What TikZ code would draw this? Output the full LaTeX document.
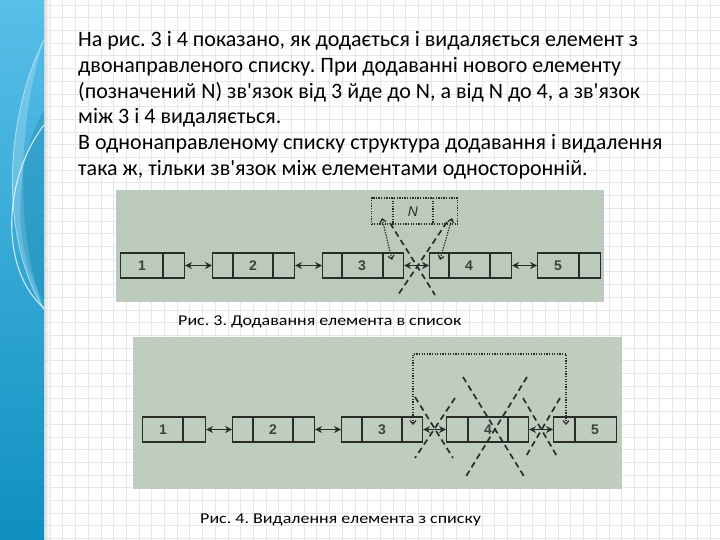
\documentclass[tikz,border=0pt]{standalone}
\usepackage{fontspec}
\setmainfont{Carlito}
\newfontfamily\numfont{Liberation Sans}
\usetikzlibrary{arrows.meta,calc}
\definecolor{gridc}{HTML}{E2E8EE}
\definecolor{photoA}{HTML}{BCCABB}
\definecolor{photoB}{HTML}{BFCDBE}
\definecolor{linec}{HTML}{2A2C2A}
\definecolor{bandtop}{HTML}{58BFE8}
\definecolor{bandbot}{HTML}{0F90C0}
\newcommand{\apos}{\textquotesingle}
\tikzset{
  elem/.style={draw=linec, line width=1.1pt, inner sep=0pt, minimum height=25pt, anchor=west},
  cellline/.style={draw=linec, line width=1.1pt},
  num/.style={font=\numfont\fontsize{14}{14}\selectfont\bfseries, text=linec!90!white, inner sep=0pt},
  dbl/.style={{Stealth[length=7pt,width=7pt]}-{Stealth[length=7pt,width=7pt]}, line width=1.7pt, draw=linec},
  dotarr/.style={{Straight Barb[length=3.5pt,width=6pt]}-{Straight Barb[length=3.5pt,width=6pt]}, line width=1.2pt, draw=linec, dash pattern=on 1.3pt off 1.3pt},
  dotbox/.style={draw=linec, line width=1.1pt, dash pattern=on 1.3pt off 1.3pt, inner sep=0pt, minimum height=26pt, anchor=west},
  dashx/.style={draw=linec, line width=1.7pt, dash pattern=on 6pt off 4pt},
  body/.style={font=\fontsize{22}{26}\selectfont, anchor=base west, inner sep=0pt},
  captxt/.style={font=\fontsize{15}{17}\selectfont, anchor=base west, inner sep=0pt},
}
\begin{document}
\frenchspacing
\begin{tikzpicture}[x=1pt,y=-1pt]
\useasboundingbox (0,0) rectangle (720,540);
\fill[white] (0,0) rectangle (720,540);
% grid
\foreach \i in {0,...,53} \draw[gridc, line width=0.6pt] (50+\i*12.7,0) -- (50+\i*12.7,540);
\foreach \j in {0,...,43} \draw[gridc, line width=0.6pt] (44,5+\j*12.7) -- (720,5+\j*12.7);
% left band
\shade[top color=bandtop, bottom color=bandbot] (0,0) rectangle (44,540);
\shade[left color=black!25, right color=white, opacity=0.5] (44,0) rectangle (50,540);
\fill[white, opacity=0.22] (44,40) .. controls (8,110) and (-4,230) .. (44,310) .. controls (14,230) and (18,120) .. (44,40);
\fill[bandbot!80!black, opacity=0.25] (44,110) .. controls (15,160) and (10,250) .. (44,300) -- (44,110);
\draw[white, opacity=0.75, line width=1.1pt] (44,125) .. controls (2,180) and (0,270) .. (44,308);
\draw[white, opacity=0.5, line width=0.8pt] (44,40) .. controls (8,110) and (-4,230) .. (44,310);
% body text
\node[body] (t1) at (78,47) {На рис. 3 і 4 показано, як додається і видаляється елемент з};
\node[body] (t2) at (78,73) {двонаправленого списку. При додаванні нового елементу};
\node[body] (t3) at (78,99) {(позначений N) зв\apos язок від 3 йде до N, а від N до 4, а зв\apos язок};
\node[body] (t4) at (78,124) {між 3 і 4 видаляється.};
\node[body] (t5) at (78,150) {В однонаправленому списку структура додавання і видалення};
\node[body] (t6) at (78,176) {така ж, тільки зв\apos язок між елементами односторонній.};
% ---------- figure 3 ----------
\fill[photoA] (116,190) rectangle (604,302);
\node[elem, minimum width=64pt] (b1) at (120,265.5) {};
\node[elem, minimum width=82pt] (b2) at (212,265.5) {};
\node[elem, minimum width=81pt] (b3) at (322,265.5) {};
\node[elem, minimum width=82pt] (b4) at (429,265.5) {};
\node[elem, minimum width=63pt] (b5) at (537,265.5) {};
\foreach \x in {163,233,273,342,383,449,490,579} \draw[cellline] (\x,253) -- (\x,278);
\node[num] at (142,266) {1};
\node[num] at (253,266) {2};
\node[num] at (362,266) {3};
\node[num] at (469,266) {4};
\node[num] at (558,266) {5};
\draw[dbl] (b1.east) -- (b2.west);
\draw[dbl] (b2.east) -- (b3.west);
\draw[dbl] (b3.east) -- (b4.west);
\draw[dbl] (b4.east) -- (b5.west);
\node[dotbox, minimum width=86pt] (nb) at (371,211) {};
\draw[dotbox] (393,198) -- (393,224);
\draw[dotbox] (433,198) -- (433,224);
\node[font=\numfont\itshape\fontsize{14}{14}\selectfont, text=linec, inner sep=0pt] (nl) at (413,212) {N};
\coordinate (p3) at (392,260);
\coordinate (pn1) at (382,218);
\coordinate (p4) at (440,260);
\coordinate (pn2) at (452,218);
\draw[dotarr] (p3) -- (pn1);
\draw[dotarr] (p4) -- (pn2);
\draw[dashx] (390,223) -- (435,295);
\draw[dashx] (447,222) -- (398,295);
\node[captxt] (c3) at (178,325) {\scalebox{1.2}[1]{Рис. 3. Додавання елемента в список}};
% ---------- figure 4 ----------
\fill[photoB] (133,337) rectangle (622,489);
\node[elem, minimum width=63pt] (c1) at (142,429.5) {};
\node[elem, minimum width=82pt] (c2) at (232,429.5) {};
\node[elem, minimum width=81pt] (c3b) at (341,429.5) {};
\node[elem, minimum width=82pt] (c4) at (446,429.5) {};
\node[elem, minimum width=63pt] (c5) at (553,429.5) {};
\foreach \x in {183,253,293,362,402,468,508,575} \draw[cellline] (\x,417) -- (\x,442);
\node[num] at (163,430) {1};
\node[num] at (273,430) {2};
\node[num] at (382,430) {3};
\node[num] at (488,430) {4};
\node[num] at (595,430) {5};
\draw[dbl] (c1.east) -- (c2.west);
\draw[dbl] (c2.east) -- (c3b.west);
\draw[dbl] (c3b.east) -- (c4.west);
\draw[dbl] (c4.east) -- (c5.west);
\coordinate (q3) at (413,425);
\coordinate (q5) at (566,425);
\draw[dotarr] (q3) -- (413,354) -- (566,354) -- (q5);
\draw[dashx] (415,397) -- (453,458);
\draw[dashx] (455,398) -- (415,458);
\draw[dashx] (463,377) -- (525,478);
\draw[dashx] (527,377) -- (465,478);
\draw[dashx] (523,398) -- (558,458);
\draw[dashx] (560,398) -- (525,458);
\node[captxt] (c4cap) at (200,523) {\scalebox{1.2}[1]{Рис. 4. Видалення елемента з списку}};
\end{tikzpicture}
\end{document}
